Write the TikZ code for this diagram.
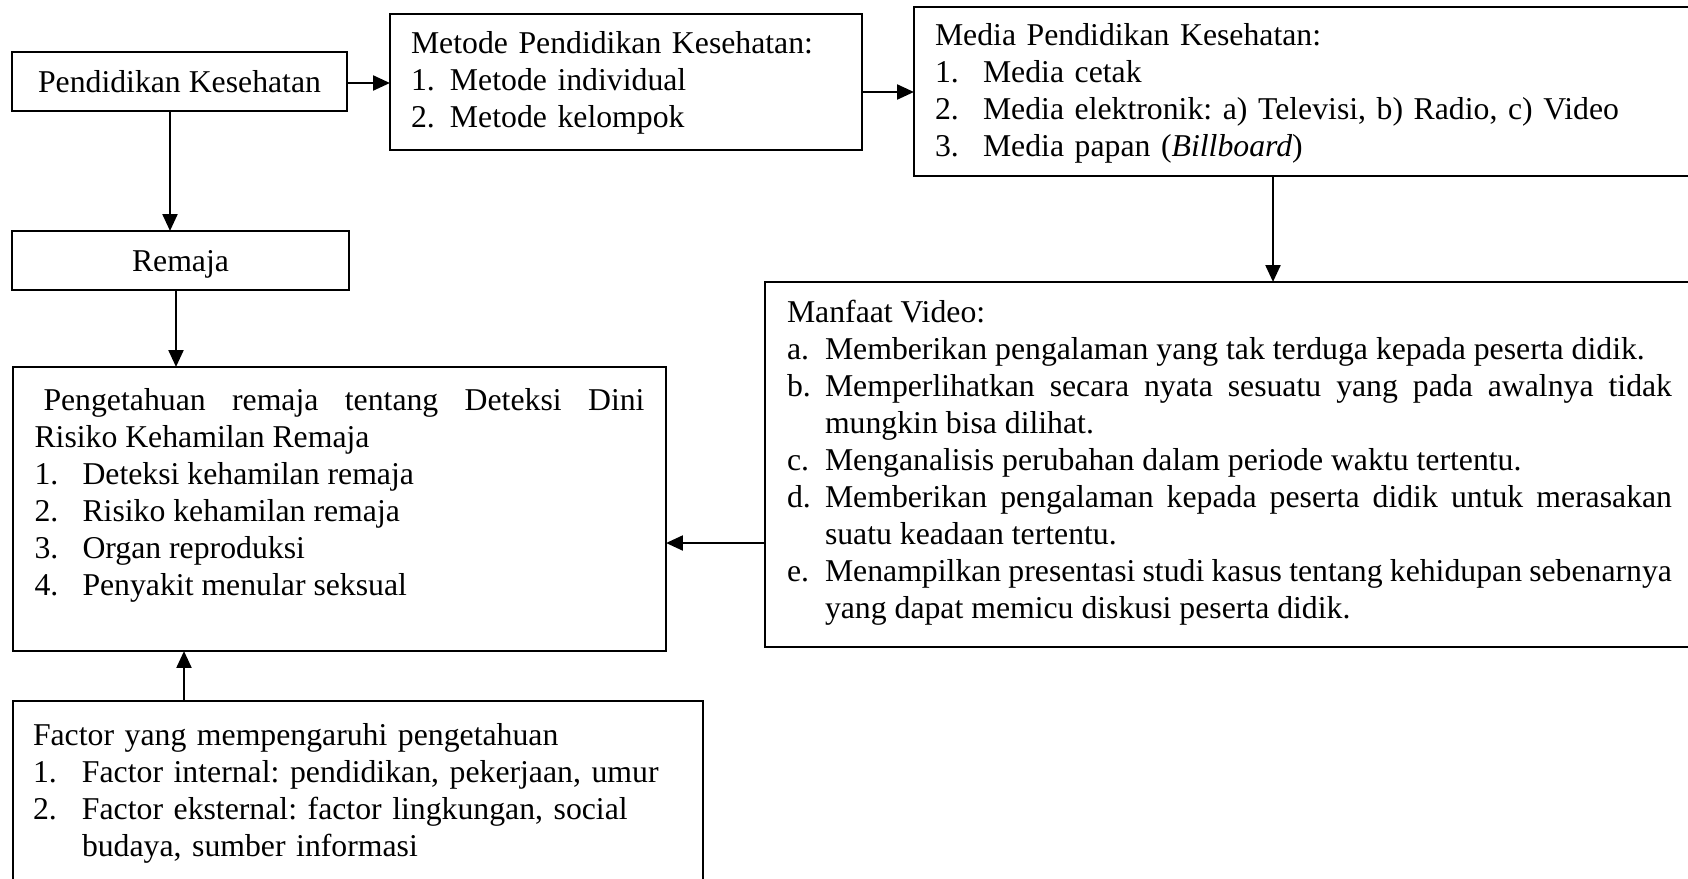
\documentclass[tikz,border=0pt]{standalone}
\usepackage{fontspec}
\setmainfont{Liberation Serif}
\usetikzlibrary{arrows.meta}

\newlength{\px}
\setlength{\px}{0.378pt}
\newcommand{\lbl}[2]{\hangindent=#1\hangafter=1\makebox[#1][l]{#2}}
\hyphenpenalty=10000
\exhyphenpenalty=10000
\frenchspacing

\begin{document}
\begin{tikzpicture}[x=0.378pt,y=-0.378pt,
	font={\fontsize{12}{14}\selectfont},
	kotak/.style={draw,line width=0.6pt,inner ysep=0pt,outer sep=0pt},
	blok/.style={kotak,anchor=north west,inner xsep=21\px},
	panah/.style={-{Triangle[length=6.4pt,width=5.6pt]},line width=1pt}]
	
	% ---- batas gambar ----
	\useasboundingbox (0,0) rectangle (1688,878);
	\clip (0,0) rectangle (1688,878);
	
	% ---- kolom kiri ----
	\node[kotak,inner xsep=0pt,minimum width=335\px,minimum height=59\px,
	text height=22\px,text depth=0pt] (pk) at (179.5,81.5) {Pendidikan Kesehatan};
	\node[kotak,inner xsep=0pt,minimum width=337\px,minimum height=59\px,
	text height=22\px,text depth=0pt] (remaja) at (180.5,260.5) {Remaja};
	
	% ---- metode dan media ----
	\node[blok,text width=430\px,text height=39\px,text depth=97\px,align=left]
	(metode) at (390,14) {Metode Pendidikan Kesehatan:\par
		\lbl{39\px}{1.}Metode individual\par
		\lbl{39\px}{2.}Metode kelompok\par};
	\node[blok,text width=760\px,text height=38\px,text depth=131\px,align=left]
	(media) at (914,7) {Media Pendidikan Kesehatan:\par
		\lbl{48\px}{1.}Media cetak\par
		\lbl{48\px}{2.}Media elektronik: a) Televisi, b) Radio, c) Video\par
		\lbl{48\px}{3.}Media papan (\textit{Billboard})\par};
	
	% ---- pengetahuan ----
	\node[blok,inner xsep=21.5\px,text width=610\px,text height=43\px,text depth=241\px,align=justify]
	(tahu) at (13,367) {\hspace*{9\px}Pengetahuan remaja tentang Deteksi Dini\linebreak
		Risiko Kehamilan Remaja\par
		\lbl{48\px}{1.}Deteksi kehamilan remaja\par
		\lbl{48\px}{2.}Risiko kehamilan remaja\par
		\lbl{48\px}{3.}Organ reproduksi\par
		\lbl{48\px}{4.}Penyakit menular seksual\par};
	
	% ---- manfaat video ----
	\node[blok,inner xsep=22\px,text width=885\px,text height=40\px,text depth=325\px,align=justify]
	(manfaat) at (765,282) {Manfaat Video:\par
		\lbl{38\px}{a.}Memberikan pengalaman yang tak terduga kepada peserta didik.\par
		\lbl{38\px}{b.}Memperlihatkan secara nyata sesuatu yang pada awalnya tidak\linebreak
		mungkin bisa dilihat.\par
		\lbl{38\px}{c.}Menganalisis perubahan dalam periode waktu tertentu.\par
		\lbl{38\px}{d.}Memberikan pengalaman kepada peserta didik untuk merasakan\linebreak
		suatu keadaan tertentu.\par
		\lbl{38\px}{e.}Menampilkan presentasi studi kasus tentang kehidupan sebenarnya\linebreak
		yang dapat memicu diskusi peserta didik.\par};
	
	% ---- faktor ----
	\node[blok,inner xsep=20\px,text width=650\px,text height=44\px,text depth=146\px,align=left]
	(faktor) at (13,701) {Factor yang mempengaruhi pengetahuan\par
		\lbl{49\px}{1.}Factor internal: pendidikan, pekerjaan, umur\par
		\lbl{49\px}{2.}Factor eksternal: factor lingkungan, social\newline
		budaya, sumber informasi\par};
	
	% ---- panah ----
	\coordinate (ab) at ([shift={(0,1.5)}]pk.east);
	\draw[panah] (ab) -- (ab -| metode.west);
	\coordinate (bc) at ([shift={(0,10)}]metode.east);
	\draw[panah] (bc) -- (bc -| media.west);
	\coordinate (ad) at ([shift={(-9.5,0)}]pk.south);
	\draw[panah] (ad) -- (ad |- remaja.north);
	\coordinate (de) at ([shift={(-4.5,0)}]remaja.south);
	\draw[panah] (de) -- (de |- tahu.north);
	\coordinate (cf) at ([shift={(359,0)}]media.south west);
	\draw[panah] (cf) -- (cf |- manfaat.north);
	\coordinate (fe) at ([shift={(0,261)}]manfaat.north west);
	\draw[panah] (fe) -- (fe -| tahu.east);
	\coordinate (ge) at ([shift={(171,0)}]faktor.north west);
	\draw[panah] (ge) -- (ge |- tahu.south);
	
\end{tikzpicture}
\end{document}
